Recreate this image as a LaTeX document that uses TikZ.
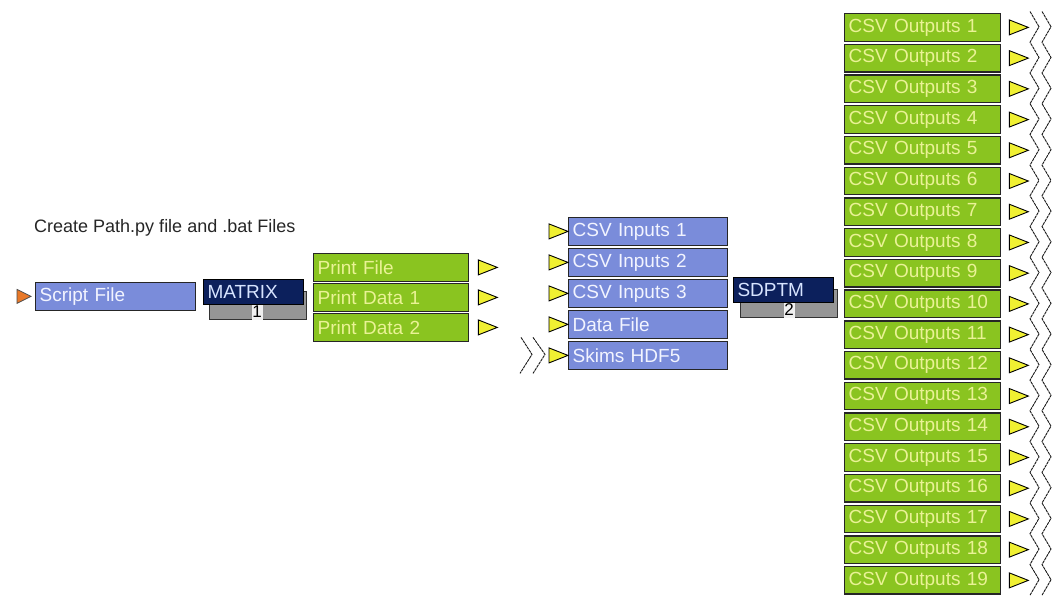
\documentclass[tikz,border=0pt]{standalone}
\usepackage{fontspec}
\setmainfont{Liberation Sans}
\usetikzlibrary{calc}
\definecolor{bluefill}{RGB}{122,140,218}
\definecolor{greenfill}{RGB}{138,196,32}
\definecolor{navyfill}{RGB}{12,32,92}
\definecolor{shadowgray}{RGB}{150,150,150}
\definecolor{greentext}{RGB}{234,242,150}
\definecolor{bluetext}{RGB}{242,244,255}
\definecolor{navytext}{RGB}{215,228,255}
\definecolor{porty}{RGB}{240,240,50}
\definecolor{porto}{RGB}{232,120,40}
\begin{document}
\begin{tikzpicture}[x=1pt,y=-1pt,
  box/.style={draw=black!85, line width=1.3pt, anchor=north west, minimum height=27.5pt,
    inner xsep=4pt, inner ysep=0pt, text width=#1, align=left,
    font=\fontsize{19}{20}\selectfont},
  bluebox/.style={box=#1, fill=bluefill, text=bluetext},
  greenbox/.style={box=#1, fill=greenfill, text=greentext},
  navybox/.style={draw=black, line width=1pt, fill=navyfill, text=navytext, anchor=north west,
    minimum width=100pt, minimum height=25pt, inner xsep=4pt, inner ysep=0pt,
    text width=92pt, align=left, font=\fontsize{19}{20}\selectfont},
  shadowbox/.style={draw=black!80, line width=1pt, fill=shadowgray, anchor=north west,
    minimum width=97pt, minimum height=28pt, inner sep=0pt},
  numbox/.style={fill=black!6, text=black, inner sep=0pt, minimum width=11pt,
    minimum height=15pt, font=\fontsize{17}{17}\selectfont},
  ytri/.pic={\filldraw[fill=porty, draw=black, line width=0.9pt] (0,-7.5) -- (19,0) -- (0,7.5) -- cycle;},
  otri/.pic={\filldraw[fill=porto, draw=black!70, line width=0.8pt] (0,-7) -- (14,0) -- (0,7) -- cycle;},
  zig/.style={draw=black!90, line width=0.9pt, dash pattern=on 3pt off 0.7pt, line join=miter}
]
\fill[white] (0,0) rectangle (1056,595);
\useasboundingbox (0,0) rectangle (1056,595);

% title
\node[anchor=west, inner sep=0pt, text=black!85, font=\fontsize{18}{19}\selectfont] (title) at (34,228) {Create Path.py file and .bat Files};

% script file
\node[bluebox=152pt] (script) at (35,282) {Script File};
\pic at ($(script.west)+(-18,0)$) {otri};

% MATRIX block
\node[shadowbox] (m1s) at (209,291) {};
\node[navybox] (mtx) at (203,279) {MATRIX};
\node[numbox] (m1n) at (257,312) {1};

% print outputs
\node[greenbox=147pt] (pf) at (313,253) {Print File};
\node[greenbox=147pt] (pd1) at (313,283) {Print Data 1};
\node[greenbox=147pt] (pd2) at (313,313) {Print Data 2};
\foreach \n in {pf,pd1,pd2}{ \pic at ($(\n.east)+(9,0)$) {ytri}; }

% inputs
\node[bluebox=151pt] (in1) at (568,217) {CSV Inputs 1};
\node[bluebox=151pt] (in2) at (568,248) {CSV Inputs 2};
\node[bluebox=151pt] (in3) at (568,279) {CSV Inputs 3};
\node[bluebox=151pt] (df) at (568,310) {Data File};
\node[bluebox=151pt] (sk) at (568,341) {Skims HDF5};
\foreach \n in {in1,in2,in3,df,sk}{ \pic at ($(\n.west)+(-19,0)$) {ytri}; }

% double chevron before Skims
\draw[zig] ($(sk.west)+(-47,-18)$) -- ($(sk.west)+(-36,-1)$) -- ($(sk.west)+(-48,18)$);
\draw[zig] ($(sk.west)+(-35,-18)$) -- ($(sk.west)+(-23,-1)$) -- ($(sk.west)+(-35,18)$);

% SDPTM block
\node[shadowbox] (m2s) at (740,289) {};
\node[navybox] (sdp) at (733,277) {SDPTM};
\node[numbox] (m2n) at (789,310) {2};

% outputs
\foreach \i in {1,...,19}{
  \node[greenbox=148pt] (o\i) at (844,{13+30.72*(\i-1)}) {CSV Outputs \i};
  \pic at ($(o\i.east)+(8,0)$) {ytri};
}

% zigzag lines at right
\draw[zig] (1030,11.5) \foreach \k in {0,...,18}{ -- (1039,{26.75+30.72*\k}) -- (1030,{42.22+30.72*\k}) };
\draw[zig] (1042,11.5) \foreach \k in {0,...,18}{ -- (1051,{26.75+30.72*\k}) -- (1042,{42.22+30.72*\k}) };
\end{tikzpicture}
\end{document}
